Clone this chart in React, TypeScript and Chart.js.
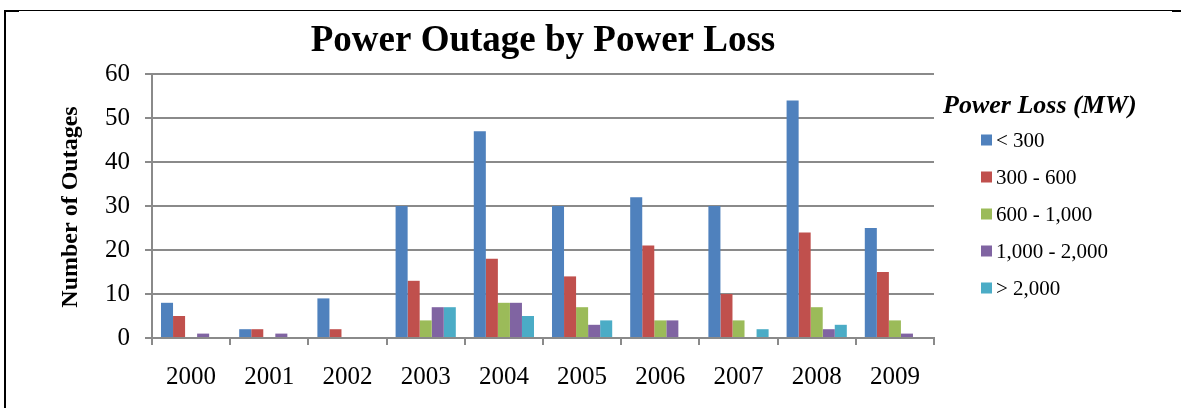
import React, { useEffect, useRef } from "react";
import { Chart, registerables } from "chart.js";

Chart.register(...registerables);

const years = ["2000", "2001", "2002", "2003", "2004", "2005", "2006", "2007", "2008", "2009"];
const seriesLabels = ["< 300", "300 - 600", "600 - 1,000", "1,000 - 2,000", "> 2,000"];
const seriesColors = ["#4F81BD", "#C0504D", "#9BBB59", "#8064A2", "#4BACC6"];
const below300 = [8, 2, 9, 30, 47, 30, 32, 30, 54, 25];
const from300to600 = [5, 2, 2, 13, 18, 14, 21, 10, 24, 15];
const from600to1000 = [0, 0, 0, 4, 8, 7, 4, 4, 7, 4];
const from1000to2000 = [1, 1, 0, 7, 8, 3, 4, 0, 2, 1];
const above2000 = [0, 0, 0, 7, 5, 4, 0, 2, 3, 0];
const yMin = 0;
const yMax = 60;
const yStep = 10;

const chartTitle = "Power Outage by Power Loss";
const yTitle = "Number of Outages";
const legendTitle = "Power Loss (MW)";

const FONT = "'Liberation Serif', 'Times New Roman', serif";
const GRID = "#8a8a8a";

const decorPlugin = {
  id: "decor",
  afterDraw(chart: any) {
    const ctx = chart.ctx;
    const area = chart.chartArea;
    ctx.save();
    ctx.fillStyle = "#000";
    // Title centered over plot area
    ctx.font = `bold 37px ${FONT}`;
    ctx.textAlign = "center";
    ctx.textBaseline = "middle";
    ctx.fillText(chartTitle, (area.left + area.right) / 2, 41);
    // Y axis title
    ctx.save();
    ctx.translate(71, (area.top + area.bottom) / 2 + 1);
    ctx.rotate(-Math.PI / 2);
    ctx.font = `bold 24px ${FONT}`;
    ctx.textAlign = "center";
    ctx.textBaseline = "middle";
    ctx.fillText(yTitle, 0, 0);
    ctx.restore();
    // Legend
    ctx.font = `italic bold 26px ${FONT}`;
    ctx.textAlign = "left";
    ctx.textBaseline = "middle";
    ctx.fillText(legendTitle, 943, 106);
    ctx.font = `21px ${FONT}`;
    chart.data.datasets.forEach((ds: any, i: number) => {
      const cy = 140 + i * 37;
      ctx.fillStyle = ds.backgroundColor;
      ctx.fillRect(981, cy - 5.5, 11, 11);
      ctx.fillStyle = "#000";
      ctx.fillText(ds.label, 996, cy + 1);
    });
    ctx.restore();
  },
};

export default function App() {
  const canvasRef = useRef<HTMLCanvasElement | null>(null);

  useEffect(() => {
    const canvas = canvasRef.current;
    if (!canvas) return;
    const seriesValues = [below300, from300to600, from600to1000, from1000to2000, above2000];
    const chart = new Chart(canvas, {
      type: "bar",
      data: {
        labels: years,
        datasets: seriesLabels.map((label, i) => ({
          label,
          data: seriesValues[i],
          backgroundColor: seriesColors[i],
          borderWidth: 0,
          barPercentage: 1,
          categoryPercentage: 0.77,
        })),
      },
      options: {
        responsive: false,
        animation: false,
        devicePixelRatio: 1,
        layout: { padding: { left: 0, right: 247, top: 74, bottom: 0 } },
        plugins: {
          legend: { display: false },
          title: { display: false },
          tooltip: { enabled: false },
        },
        scales: {
          x: {
            grid: {
              display: true,
              drawOnChartArea: false,
              drawTicks: true,
              tickLength: 7,
              color: GRID,
              lineWidth: 2,
              offset: true,
            },
            border: { display: true, color: GRID, width: 2 },
            ticks: {
              color: "#000",
              font: { family: FONT, size: 25 },
              padding: 17,
              maxRotation: 0,
            },
            afterFit(scale: any) {
              scale.height = 70;
            },
          },
          y: {
            min: yMin,
            max: yMax,
            grid: {
              color: GRID,
              lineWidth: 2,
              drawTicks: true,
              tickLength: 7,
            },
            border: { display: true, color: GRID, width: 2 },
            ticks: {
              stepSize: yStep,
              color: "#000",
              font: { family: FONT, size: 25 },
              padding: 15,
            },
            afterFit(scale: any) {
              scale.width = 152;
            },
          },
        },
      },
      plugins: [decorPlugin],
    });
    return () => chart.destroy();
  }, []);

  return (
    <div style={{ position: "fixed", left: 0, top: 0, width: 1181, height: 408, background: "#fff", overflow: "hidden" }}>
      <canvas ref={canvasRef} width={1181} height={408} style={{ position: "absolute", left: 0, top: 0, width: 1181, height: 408 }} />
      <div style={{ position: "absolute", left: 4, top: 10, width: 2, height: 398, background: "#000" }} />
      <div style={{ position: "absolute", left: 4, top: 10, width: 1177, height: 1, background: "#000" }} />
      <div style={{ position: "absolute", left: 4, top: 10, width: 15, height: 2, background: "#000" }} />
      <div style={{ position: "absolute", left: 1172, top: 10, width: 9, height: 2, background: "#000" }} />
    </div>
  );
}
